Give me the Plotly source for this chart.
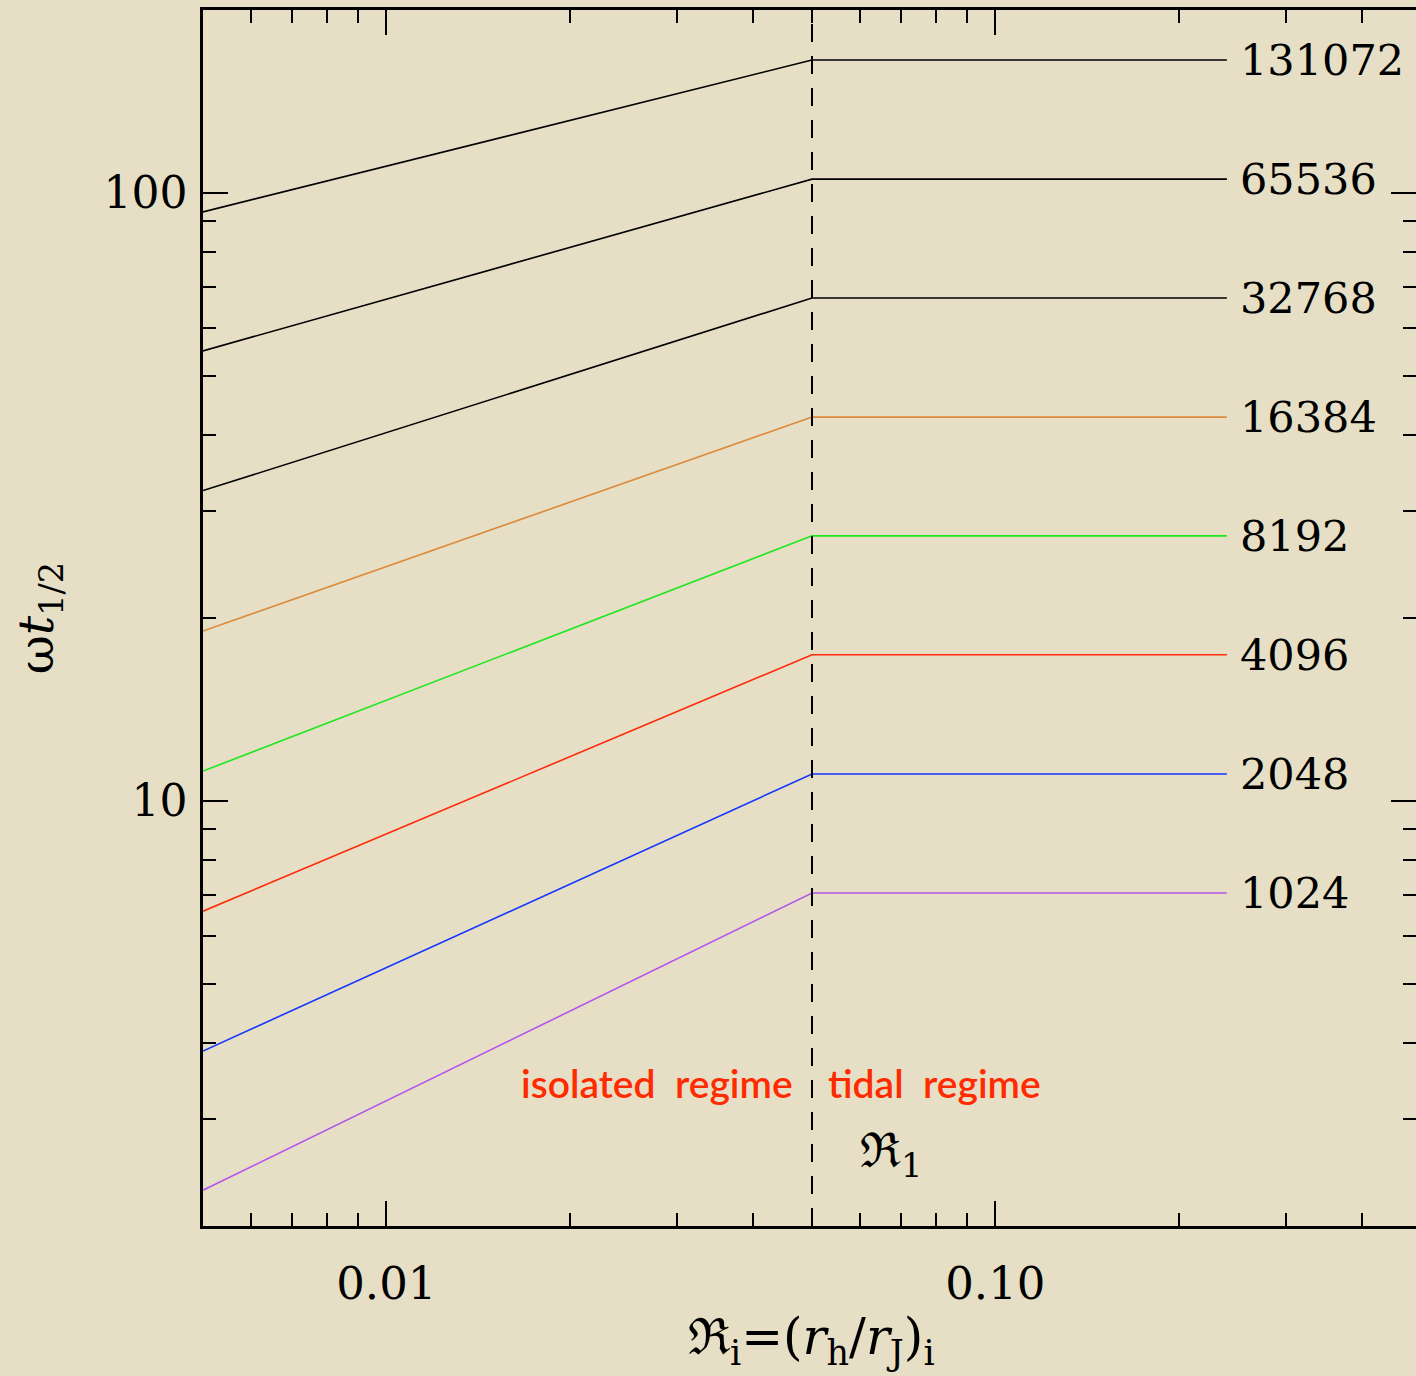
import math
import plotly.graph_objects as go

# ---- data ----
n_labels = ["131072", "65536", "32768", "16384", "8192", "4096", "2048", "1024"]
x_points = [0.005, 0.05, 0.24]
y_left = [93.1, 55.0, 32.4, 19.04, 11.2, 6.59, 3.88, 2.29]
y_plateau = [165.5, 105.4, 67.2, 42.8, 27.3, 17.4, 11.08, 7.06]
line_colors = ["#000000", "#000000", "#000000", "#dc8a3c", "#1ee61e", "#ff2a0a", "#1436ff", "#b455ee"]
label_x = 0.25
r1_value = 0.05
x_tickvals = [0.01, 0.1]
x_ticktext = ["0.01", "0.10"]
y_tickvals = [10, 100]
y_ticktext = ["10", "100"]
x_minor = [0.006, 0.007, 0.008, 0.009, 0.02, 0.03, 0.04, 0.05, 0.06, 0.07, 0.08, 0.09,
           0.2, 0.3, 0.4, 0.5]
y_minor = [3, 4, 5, 6, 7, 8, 9, 20, 30, 40, 50, 60, 70, 80, 90, 200]

BG = "#e6dfc5"
SERIF = "DejaVu Serif"
SANS = "Lato"
RED = "#ff2a00"

fig = go.Figure()

for lab, yl, yp, c in zip(n_labels, y_left, y_plateau, line_colors):
    fig.add_trace(go.Scatter(
        x=x_points, y=[yl, yp, yp], mode="lines",
        line=dict(color=c, width=1.6), showlegend=False, hoverinfo="skip"))
    fig.add_annotation(x=math.log10(label_x), y=math.log10(yp), text=lab,
                       xanchor="left", yanchor="middle", showarrow=False,
                       font=dict(family=SERIF, size=43, color="black"))

# dashed vertical line at R1
fig.add_trace(go.Scatter(x=[r1_value, r1_value], y=[2, 200], mode="lines",
                         line=dict(color="black", width=2, dash="18px,14px"),
                         showlegend=False, hoverinfo="skip"))

fig.add_annotation(x=math.log10(r1_value), y=math.log10(3.44), text="isolated  regime",
                   xanchor="right", yanchor="middle", xshift=-17, showarrow=False,
                   font=dict(family=SANS, size=39, color=RED, weight=600))
fig.add_annotation(x=math.log10(r1_value), y=math.log10(3.44), text="tidal  regime",
                   xanchor="left", yanchor="middle", xshift=14, showarrow=False,
                   font=dict(family=SANS, size=39, color=RED, weight=600))
fig.add_annotation(x=math.log10(0.0673), y=math.log10(2.63), text="ℜ<sub>1</sub>",
                   xanchor="center", yanchor="middle", showarrow=False,
                   font=dict(family=SERIF, size=48, color="black"))

# y axis title as annotation
fig.add_annotation(xref="paper", yref="paper", x=-0.135, y=0.5,
                   text="ω<i>t</i><sub>1/2</sub>", textangle=-90,
                   xanchor="center", yanchor="middle", showarrow=False,
                   font=dict(family=SERIF, size=48, color="black"))
# x axis title
fig.add_annotation(xref="paper", yref="paper", x=(811 - 203) / 1213, y=-0.094,
                   text="ℜ<sub>i</sub>=(<i>r</i><sub>h</sub>/<i>r</i><sub>J</sub>)<sub>i</sub>",
                   xanchor="center", yanchor="middle", showarrow=False,
                   font=dict(family=SERIF, size=50, color="black"))

x_lo = math.log10(0.005)
x_hi = x_lo + 1213 / 609.0

fig.update_layout(
    width=1416, height=1376,
    margin=dict(l=203, r=0, t=10, b=150),
    paper_bgcolor=BG, plot_bgcolor=BG,
    xaxis=dict(type="log", range=[x_lo, x_hi], showgrid=False, zeroline=False,
               showline=True, linecolor="black", linewidth=2.5, mirror="ticks",
               ticks="inside", ticklen=25, tickwidth=2, tickcolor="black",
               tickmode="array", tickvals=x_tickvals, ticktext=x_ticktext,
               tickfont=dict(family=SERIF, size=45, color="black"),
               ticklabelstandoff=16,
               minor=dict(tickmode="array", tickvals=x_minor, ticks="inside",
                          ticklen=13, tickwidth=2, tickcolor="black", showgrid=False)),
    yaxis=dict(type="log", range=[math.log10(2), math.log10(200)], showgrid=False,
               zeroline=False, showline=True, linecolor="black", linewidth=2.5,
               ticks="inside", ticklen=25, tickwidth=2, tickcolor="black",
               tickmode="array", tickvals=y_tickvals, ticktext=y_ticktext,
               tickfont=dict(family=SERIF, size=44, color="black"),
               ticklabelstandoff=4,
               minor=dict(tickmode="array", tickvals=y_minor, ticks="inside",
                          ticklen=13, tickwidth=2, tickcolor="black", showgrid=False)),
    yaxis2=dict(type="log", range=[math.log10(2), math.log10(200)], overlaying="y",
                side="right", showgrid=False, zeroline=False, showline=False,
                ticks="inside", ticklen=25, tickwidth=2, tickcolor="black",
                tickmode="array", tickvals=y_tickvals, showticklabels=False,
                minor=dict(tickmode="array", tickvals=y_minor, ticks="inside",
                           ticklen=13, tickwidth=2, tickcolor="black", showgrid=False)),
)
# dummy trace to activate yaxis2
fig.add_trace(go.Scatter(x=[0.1], y=[10], yaxis="y2", mode="markers",
                         marker=dict(opacity=0), showlegend=False, hoverinfo="skip"))

fig.write_html("out.html", config={"displayModeBar": False},
               post_script="document.body.style.margin='0';document.body.style.background='%s';" % BG)
